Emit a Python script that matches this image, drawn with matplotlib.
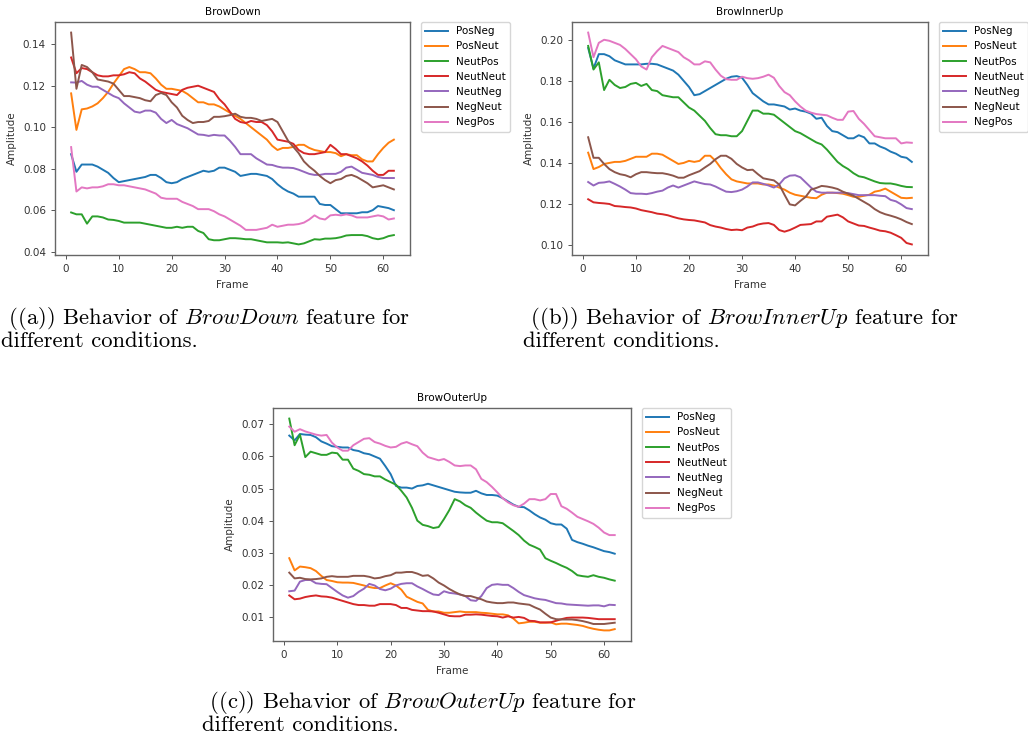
import numpy as np
import matplotlib
matplotlib.use("Agg")
import matplotlib.pyplot as plt

plt.rcParams['mathtext.fontset'] = 'cm'

frames = np.arange(1, 63)
conditions = ["PosNeg", "PosNeut", "NeutPos", "NeutNeut", "NeutNeg", "NegNeut", "NegPos"]

# BrowDown
down_posneg = [0.087, 0.0785, 0.082, 0.082, 0.082, 0.081, 0.0795, 0.078, 0.0755, 0.0735,
               0.074, 0.0745, 0.075, 0.0755, 0.076, 0.077, 0.077, 0.0755, 0.0735, 0.073,
               0.0735, 0.075, 0.076, 0.077, 0.078, 0.079, 0.0785, 0.079, 0.0805, 0.0805,
               0.0795, 0.0785, 0.0765, 0.077, 0.0775, 0.0775, 0.077, 0.0765, 0.075, 0.0725,
               0.0705, 0.069, 0.068, 0.0665, 0.0665, 0.0665, 0.0665, 0.063, 0.0625, 0.0625,
               0.0605, 0.0585, 0.0585, 0.0585, 0.0585, 0.059, 0.059, 0.060, 0.062, 0.0615,
               0.061, 0.060]
down_posneut = [0.1163, 0.0987, 0.1086, 0.109, 0.110, 0.1115, 0.114, 0.117, 0.121, 0.1245,
                0.128, 0.129, 0.128, 0.1265, 0.1265, 0.126, 0.1235, 0.1205, 0.1185, 0.1185,
                0.118, 0.1175, 0.116, 0.114, 0.112, 0.112, 0.111, 0.111, 0.110, 0.1085,
                0.107, 0.1055, 0.104, 0.102, 0.100, 0.098, 0.096, 0.094, 0.091, 0.089,
                0.090, 0.090, 0.0905, 0.0915, 0.0915, 0.090, 0.089, 0.0885, 0.088, 0.088,
                0.0875, 0.086, 0.087, 0.0865, 0.0865, 0.0845, 0.0835, 0.0835, 0.087, 0.090,
                0.0925, 0.094]
down_neutpos = [0.0589, 0.058, 0.058, 0.0535, 0.057, 0.057, 0.0565, 0.0555, 0.0553, 0.0548,
                0.054, 0.054, 0.054, 0.054, 0.0535, 0.053, 0.0525, 0.052, 0.0515, 0.0515,
                0.052, 0.0515, 0.052, 0.052, 0.050, 0.049, 0.046, 0.0455, 0.0455, 0.046,
                0.0465, 0.0465, 0.0463, 0.046, 0.046, 0.0455, 0.045, 0.0445, 0.0445, 0.0445,
                0.0443, 0.0445, 0.044, 0.0435, 0.044, 0.045, 0.046, 0.0458, 0.0463, 0.0463,
                0.0465, 0.047, 0.0478, 0.048, 0.048, 0.048, 0.0475, 0.0465, 0.046, 0.0465,
                0.0475, 0.048]
down_neutneut = [0.1336, 0.126, 0.1285, 0.128, 0.1265, 0.125, 0.1245, 0.1245, 0.125, 0.125,
                 0.1255, 0.1265, 0.126, 0.1235, 0.122, 0.120, 0.118, 0.117, 0.1165, 0.116,
                 0.1155, 0.118, 0.119, 0.1195, 0.120, 0.119, 0.118, 0.117, 0.1135, 0.111,
                 0.1075, 0.104, 0.1025, 0.102, 0.103, 0.1025, 0.1025, 0.101, 0.098, 0.094,
                 0.0935, 0.093, 0.092, 0.089, 0.0875, 0.087, 0.087, 0.0875, 0.088, 0.0915,
                 0.0895, 0.087, 0.087, 0.086, 0.085, 0.0835, 0.0815, 0.079, 0.077, 0.077,
                 0.079, 0.079]
down_neutneg = [0.1216, 0.1215, 0.1223, 0.1205, 0.1195, 0.1195, 0.118, 0.1165, 0.115, 0.114,
                0.1115, 0.1095, 0.1075, 0.107, 0.108, 0.108, 0.107, 0.104, 0.102, 0.1035,
                0.1015, 0.1005, 0.0995, 0.098, 0.0965, 0.0963, 0.0958, 0.0963, 0.096, 0.096,
                0.0935, 0.0905, 0.087, 0.087, 0.087, 0.085, 0.0835, 0.082, 0.0818, 0.081,
                0.0805, 0.0805, 0.0803, 0.0795, 0.0785, 0.0775, 0.077, 0.077, 0.0775, 0.0775,
                0.0775, 0.0785, 0.0805, 0.081, 0.0795, 0.078, 0.0775, 0.077, 0.076, 0.0755,
                0.0755, 0.0755]
down_negneut = [0.1456, 0.1185, 0.130, 0.129, 0.1265, 0.123, 0.1225, 0.122, 0.121, 0.118,
                0.115, 0.115, 0.1145, 0.114, 0.113, 0.1125, 0.1155, 0.1165, 0.1155, 0.112,
                0.1095, 0.1055, 0.1035, 0.102, 0.1025, 0.1025, 0.103, 0.105, 0.105, 0.1053,
                0.1058, 0.1065, 0.105, 0.1045, 0.1045, 0.104, 0.103, 0.1035, 0.104, 0.1025,
                0.098, 0.0935, 0.0905, 0.0875, 0.0835, 0.081, 0.079, 0.0765, 0.0745, 0.073,
                0.0745, 0.075, 0.0765, 0.077, 0.076, 0.0745, 0.073, 0.071, 0.0715, 0.072,
                0.071, 0.070]
down_negpos = [0.0904, 0.069, 0.071, 0.0705, 0.071, 0.071, 0.0715, 0.0725, 0.0725, 0.072,
               0.072, 0.0715, 0.071, 0.0705, 0.070, 0.069, 0.068, 0.066, 0.0655, 0.0655,
               0.0655, 0.064, 0.063, 0.062, 0.0605, 0.0605, 0.0605, 0.0595, 0.058, 0.057,
               0.0555, 0.054, 0.0525, 0.0505, 0.0505, 0.0505, 0.051, 0.0515, 0.053, 0.052,
               0.0525, 0.053, 0.053, 0.0533, 0.054, 0.0555, 0.0575, 0.056, 0.0555, 0.0575,
               0.0578, 0.0575, 0.058, 0.0575, 0.0565, 0.0565, 0.0565, 0.057, 0.0575, 0.057,
               0.0555, 0.056]

# BrowInnerUp
inner_posneg = [0.196, 0.186, 0.193, 0.193, 0.192, 0.190, 0.189, 0.188, 0.188, 0.188,
                0.188, 0.1883, 0.1883, 0.188, 0.187, 0.186, 0.185, 0.183, 0.180, 0.177,
                0.173, 0.1735, 0.175, 0.1765, 0.178, 0.1795, 0.181, 0.182, 0.1823, 0.1815,
                0.178, 0.174, 0.172, 0.170, 0.1685, 0.1685, 0.168, 0.1675, 0.166, 0.1665,
                0.1655, 0.165, 0.164, 0.1615, 0.162, 0.158, 0.1555, 0.155, 0.1535, 0.152,
                0.152, 0.1535, 0.1525, 0.1495, 0.1495, 0.148, 0.147, 0.1455, 0.1445, 0.143,
                0.1425, 0.1405]
inner_posneut = [0.145, 0.137, 0.138, 0.1395, 0.140, 0.1405, 0.1405, 0.141, 0.142, 0.143,
                 0.143, 0.143, 0.1445, 0.1445, 0.144, 0.1425, 0.141, 0.1395, 0.140, 0.141,
                 0.1405, 0.141, 0.1435, 0.1435, 0.141, 0.1375, 0.1345, 0.132, 0.131, 0.1305,
                 0.130, 0.130, 0.130, 0.1295, 0.1295, 0.129, 0.128, 0.127, 0.1255, 0.1245,
                 0.124, 0.1235, 0.123, 0.1228, 0.1245, 0.1255, 0.1255, 0.1253, 0.125, 0.1243,
                 0.1235, 0.1235, 0.124, 0.1245, 0.126, 0.1265, 0.1275, 0.126, 0.1245, 0.123,
                 0.1228, 0.123]
inner_neutpos = [0.197, 0.1855, 0.189, 0.1755, 0.1805, 0.178, 0.1765, 0.177, 0.1785, 0.179,
                 0.1775, 0.1785, 0.1755, 0.175, 0.173, 0.1725, 0.172, 0.172, 0.1695, 0.167,
                 0.1655, 0.163, 0.1605, 0.157, 0.154, 0.1535, 0.1535, 0.153, 0.153, 0.1555,
                 0.1605, 0.1655, 0.1655, 0.164, 0.164, 0.1635, 0.1615, 0.1595, 0.1575, 0.1555,
                 0.1545, 0.153, 0.1515, 0.150, 0.149, 0.1465, 0.1435, 0.1405, 0.1385, 0.137,
                 0.135, 0.1335, 0.133, 0.132, 0.131, 0.1302, 0.130, 0.130, 0.1295, 0.1288,
                 0.1283, 0.1282]
inner_neutneut = [0.1223, 0.1208, 0.1205, 0.1203, 0.120, 0.119, 0.1188, 0.1185, 0.1183, 0.1178,
                  0.117, 0.1165, 0.116, 0.1153, 0.115, 0.1145, 0.1137, 0.113, 0.1125, 0.1122,
                  0.112, 0.1115, 0.111, 0.1097, 0.109, 0.1085, 0.1078, 0.1073, 0.1075, 0.1072,
                  0.1085, 0.109, 0.110, 0.1105, 0.1107, 0.1098, 0.1073, 0.1065, 0.1073, 0.1085,
                  0.1098, 0.110, 0.1102, 0.1115, 0.1115, 0.1138, 0.1143, 0.1148, 0.1135, 0.1115,
                  0.1105, 0.1095, 0.1093, 0.1085, 0.1078, 0.107, 0.1067, 0.106, 0.1048, 0.1035,
                  0.101, 0.1003]
inner_neutneg = [0.1307, 0.129, 0.1303, 0.1305, 0.131, 0.1298, 0.1285, 0.127, 0.1253, 0.125,
                 0.125, 0.1248, 0.1253, 0.126, 0.1265, 0.128, 0.129, 0.128, 0.129, 0.130,
                 0.131, 0.1303, 0.1297, 0.1295, 0.1285, 0.1272, 0.126, 0.1258, 0.1262, 0.127,
                 0.1285, 0.1305, 0.1305, 0.1298, 0.129, 0.128, 0.1295, 0.1325, 0.1338, 0.134,
                 0.133, 0.1305, 0.128, 0.126, 0.1255, 0.1255, 0.1255, 0.1255, 0.1255, 0.1253,
                 0.1248, 0.1243, 0.1243, 0.1243, 0.1243, 0.124, 0.1238, 0.122, 0.1213, 0.1198,
                 0.118, 0.1175]
inner_negneut = [0.1525, 0.1425, 0.1425, 0.1395, 0.137, 0.1355, 0.1345, 0.134, 0.133, 0.1345,
                 0.1355, 0.1355, 0.1352, 0.135, 0.135, 0.1345, 0.1338, 0.1328, 0.1328, 0.134,
                 0.135, 0.136, 0.1378, 0.1395, 0.1418, 0.1435, 0.1435, 0.142, 0.1395, 0.1378,
                 0.1365, 0.1367, 0.1345, 0.1325, 0.132, 0.1315, 0.1295, 0.1245, 0.1198, 0.1193,
                 0.1215, 0.1235, 0.127, 0.1278, 0.1288, 0.1285, 0.128, 0.1273, 0.126, 0.125,
                 0.124, 0.1225, 0.121, 0.1195, 0.1175, 0.116, 0.115, 0.1143, 0.1135, 0.1125,
                 0.1112, 0.1102]
inner_negpos = [0.2035, 0.1915, 0.1985, 0.200, 0.1995, 0.1985, 0.1975, 0.1955, 0.193, 0.1905,
                0.187, 0.1855, 0.1915, 0.1945, 0.197, 0.196, 0.195, 0.194, 0.1915, 0.190,
                0.188, 0.188, 0.1895, 0.189, 0.1855, 0.1825, 0.1808, 0.1805, 0.1805, 0.182,
                0.1813, 0.181, 0.1813, 0.182, 0.183, 0.1815, 0.1775, 0.1745, 0.173, 0.170,
                0.1675, 0.1655, 0.1645, 0.1638, 0.1635, 0.1632, 0.162, 0.161, 0.161, 0.165,
                0.1653, 0.1615, 0.159, 0.156, 0.153, 0.1525, 0.152, 0.152, 0.152, 0.1495,
                0.150, 0.1498]

# BrowOuterUp
outer_posneg = [0.0665, 0.065, 0.067, 0.0668, 0.0667, 0.066, 0.0647, 0.064, 0.0632, 0.063,
                0.0628, 0.0628, 0.062, 0.0617, 0.061, 0.0607, 0.060, 0.0593, 0.057, 0.0545,
                0.0508, 0.0503, 0.0503, 0.050, 0.0508, 0.051, 0.0515, 0.051, 0.0505, 0.050,
                0.0495, 0.049, 0.0488, 0.0487, 0.0487, 0.0493, 0.0485, 0.048, 0.048, 0.0478,
                0.047, 0.046, 0.045, 0.0443, 0.0442, 0.0432, 0.042, 0.041, 0.0403, 0.0392,
                0.0388, 0.0388, 0.0375, 0.034, 0.0333, 0.0328, 0.0322, 0.0317, 0.0311, 0.0305,
                0.0302, 0.0297]
outer_posneut = [0.0283, 0.0245, 0.0257, 0.0255, 0.0252, 0.0243, 0.0228, 0.0215, 0.0212, 0.0208,
                 0.0207, 0.0207, 0.0206, 0.0202, 0.0198, 0.0193, 0.019, 0.019, 0.0198, 0.0205,
                 0.0198, 0.0185, 0.0163, 0.0155, 0.0147, 0.0142, 0.0122, 0.0117, 0.0117, 0.0113,
                 0.0113, 0.0115, 0.0117, 0.0115, 0.0115, 0.0115, 0.0113, 0.0112, 0.011, 0.0108,
                 0.0108, 0.0105, 0.0095, 0.008, 0.0082, 0.0085, 0.0085, 0.0082, 0.0082, 0.0083,
                 0.0077, 0.0079, 0.0079, 0.0077, 0.0075, 0.0072, 0.0067, 0.0063, 0.006, 0.0058,
                 0.0058, 0.0062]
outer_neutpos = [0.0718, 0.0635, 0.0668, 0.0598, 0.0615, 0.061, 0.0605, 0.0605, 0.0612, 0.061,
                 0.059, 0.059, 0.0562, 0.0555, 0.0545, 0.0543, 0.0538, 0.0538, 0.0528, 0.052,
                 0.0512, 0.0493, 0.0472, 0.044, 0.040, 0.0387, 0.0383, 0.0377, 0.038, 0.0405,
                 0.0433, 0.0467, 0.046, 0.0448, 0.044, 0.0425, 0.0412, 0.040, 0.0395, 0.0395,
                 0.0392, 0.038, 0.0368, 0.0355, 0.0338, 0.0325, 0.0318, 0.031, 0.0283, 0.0275,
                 0.0268, 0.026, 0.0253, 0.0243, 0.023, 0.0227, 0.0225, 0.023, 0.0225, 0.0222,
                 0.0217, 0.0213]
outer_neutneut = [0.0167, 0.0155, 0.0157, 0.0162, 0.0165, 0.0167, 0.0164, 0.0163, 0.016, 0.0155,
                  0.015, 0.0145, 0.014, 0.0137, 0.0137, 0.0135, 0.0135, 0.014, 0.014, 0.014,
                  0.0137, 0.0128, 0.0128, 0.0122, 0.012, 0.0118, 0.0118, 0.0117, 0.0113, 0.0108,
                  0.0103, 0.0102, 0.0102, 0.0107, 0.0107, 0.0108, 0.0107, 0.0105, 0.0103, 0.0102,
                  0.0098, 0.0102, 0.0098, 0.010, 0.0097, 0.0088, 0.0087, 0.0083, 0.0083, 0.0083,
                  0.0088, 0.0093, 0.0097, 0.0098, 0.0098, 0.0098, 0.0097, 0.0095, 0.0093, 0.0093,
                  0.0093, 0.0093]
outer_neutneg = [0.018, 0.0182, 0.021, 0.0215, 0.0215, 0.0205, 0.0203, 0.0202, 0.019, 0.0178,
                 0.0167, 0.016, 0.0165, 0.0178, 0.0188, 0.0203, 0.0198, 0.0187, 0.0183, 0.0188,
                 0.0198, 0.0203, 0.0205, 0.0205, 0.0195, 0.0187, 0.0178, 0.017, 0.0168, 0.018,
                 0.0175, 0.0173, 0.017, 0.0165, 0.0152, 0.015, 0.0165, 0.019, 0.020, 0.0202,
                 0.020, 0.020, 0.019, 0.0178, 0.0168, 0.0163, 0.0158, 0.0155, 0.0153, 0.0148,
                 0.0143, 0.0142, 0.0139, 0.0138, 0.0137, 0.0136, 0.0135, 0.0136, 0.0136, 0.0133,
                 0.0138, 0.0137]
outer_negneut = [0.0238, 0.022, 0.0222, 0.0218, 0.0217, 0.0218, 0.022, 0.0225, 0.0227, 0.0225,
                 0.0225, 0.0225, 0.0228, 0.0228, 0.0228, 0.0225, 0.022, 0.0222, 0.0227, 0.023,
                 0.0238, 0.0238, 0.024, 0.024, 0.0235, 0.0228, 0.023, 0.022, 0.0207, 0.0198,
                 0.0187, 0.0178, 0.017, 0.0165, 0.0165, 0.016, 0.0155, 0.0148, 0.0145, 0.0143,
                 0.0143, 0.0145, 0.0145, 0.0142, 0.014, 0.0138, 0.013, 0.0123, 0.011, 0.0098,
                 0.0093, 0.0092, 0.0092, 0.0092, 0.009, 0.0087, 0.0083, 0.0078, 0.0078, 0.0078,
                 0.008, 0.0082]
outer_negpos = [0.0693, 0.0677, 0.0685, 0.0678, 0.0673, 0.0668, 0.0665, 0.0667, 0.0643, 0.0628,
                0.0618, 0.0618, 0.0635, 0.0645, 0.0655, 0.0657, 0.0645, 0.064, 0.0633, 0.0628,
                0.063, 0.064, 0.0645, 0.0638, 0.0632, 0.0612, 0.0598, 0.0593, 0.0588, 0.0592,
                0.0583, 0.0572, 0.057, 0.0572, 0.0572, 0.056, 0.053, 0.052, 0.0505, 0.0488,
                0.047, 0.0457, 0.0448, 0.0443, 0.0453, 0.0467, 0.0467, 0.0463, 0.0467, 0.0483,
                0.0483, 0.0445, 0.0437, 0.0425, 0.0412, 0.0405, 0.0398, 0.039, 0.0378, 0.0363,
                0.0355, 0.0355]

down = [down_posneg, down_posneut, down_neutpos, down_neutneut, down_neutneg, down_negneut, down_negpos]
inner = [inner_posneg, inner_posneut, inner_neutpos, inner_neutneut, inner_neutneg, inner_negneut, inner_negpos]
outer = [outer_posneg, outer_posneut, outer_neutpos, outer_neutneut, outer_neutneg, outer_negneut, outer_negpos]

W, H = 1028, 741
fig = plt.figure(figsize=(W / 100, H / 100), dpi=100)


def box(l, t, r, b):
    return [l / W, 1 - b / H, (r - l) / W, (b - t) / H]


def panel(rect, title, series, yticks):
    ax = fig.add_axes(rect)
    for vals, name in zip(series, conditions):
        ax.plot(frames, vals, lw=1.4, label=name)
    ax.set_title(title, fontsize=7.5, pad=5)
    ax.set_xlabel("Frame", fontsize=7.5, color="#333333")
    ax.set_ylabel("Amplitude", fontsize=7.5, color="#333333")
    ax.set_xticks([0, 10, 20, 30, 40, 50, 60])
    ax.set_yticks(yticks)
    ax.tick_params(labelsize=7.5, labelcolor="#333333", length=3, width=0.7, color="#555555")
    for s in ax.spines.values():
        s.set_color("#666666")
        s.set_linewidth(1.0)
    ax.legend(loc="upper left", bbox_to_anchor=(1.03, 1.0), borderaxespad=0,
              fontsize=7.5, handlelength=2.2, labelspacing=0.5, frameon=True,
              edgecolor="#cccccc")
    return ax


panel(box(55, 22, 410, 255), "BrowDown", down, [0.04, 0.06, 0.08, 0.10, 0.12, 0.14])
panel(box(572, 22, 928, 255), "BrowInnerUp", inner, [0.10, 0.12, 0.14, 0.16, 0.18, 0.20])
panel(box(273, 408, 631, 641), "BrowOuterUp", outer, [0.01, 0.02, 0.03, 0.04, 0.05, 0.06, 0.07])

cap = dict(fontfamily="cmr10", fontsize=16.3, ha="left", va="top", linespacing=0.96)
fig.text(1 / W, 1 - 305 / H, " ((a)) Behavior of $\\mathit{BrowDown}$ feature for\ndifferent conditions.", **cap)
fig.text(523 / W, 1 - 305 / H, " ((b)) Behavior of $\\mathit{BrowInnerUp}$ feature for\ndifferent conditions.", **cap)
fig.text(202 / W, 1 - 689 / H, " ((c)) Behavior of $\\mathit{BrowOuterUp}$ feature for\ndifferent conditions.", **cap)

fig.savefig("out.png", dpi=100)
